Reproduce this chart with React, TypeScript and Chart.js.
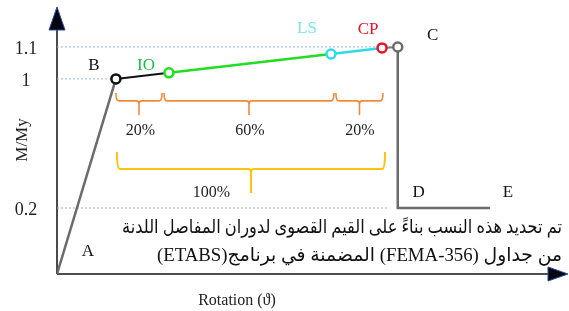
import React, { useEffect, useRef } from "react";
import { Chart, registerables, LinearScale } from "chart.js";

// ---- data ----
const POINT_NAMES = ["A", "B", "IO", "LS", "CP", "C", "D", "E"];
const ROTATION = [0, 1.2, 2.28, 5.58, 6.62, 6.94, 6.94, 8.82];
const MOMENT_RATIO = [0, 1, 1.019, 1.078, 1.097, 1.1, 0.2, 0.2];
const Y_TICKS = [0.2, 1, 1.1];
const Y_TICK_LABELS = ["0.2", "1", "1.1"];
const GUIDE_LEVELS = [1.1, 1, 0.2];
const GUIDE_ENDS = [6.94, 1.2, 6.74];
const BRACE_EDGES = [1.2, 2.16, 5.66, 6.64];
const BRACE_LABELS = ["20%", "60%", "20%"];
const TOTAL_LABEL = "100%";
const NOTE_LINES = [
  "تم تحديد هذه النسب بناءً على القيم القصوى لدوران المفاصل اللدنة",
  "من جداول (FEMA-356) المضمنة في برنامج(ETABS)",
];
const X_TITLE = "Rotation (ϑ)";
const Y_TITLE = "M/My";

// ---- styling ----
const SEG_COLORS = ["#6b6b6b", "#111111", "#22dd22", "#2ddbe6", "#7a7a7a", "#6b6b6b", "#6b6b6b"];
const SEG_WIDTHS = [2.5, 2, 2.5, 2.5, 2, 2.5, 2.5];
const POINT_COLORS = ["#000", "#111111", "#22dd22", "#2ddbe6", "#e8102a", "#6b6b6b", "#000", "#000"];
const POINT_RADII = [0, 4.5, 4.5, 4.5, 4.5, 4.5, 0, 0];
const LABEL_COLORS = ["#111", "#111", "#1fb84a", "#7de6ee", "#e8102a", "#111", "#111", "#111"];
const LABEL_OFFSETS = [[31, -22], [-22, -13], [-23, -7], [-24, -25], [-14, -18], [35, -11], [21, -15], [18, -15]];
const NOTE_WIDTHS = [440, 405];
const NOTE_Y = [228, 256];

// piecewise (schematic) vertical scale layout
const Y_BREAK_VALUES = [0, 0.2, 1, 1.1, 1.216];
const Y_BREAK_FRACTIONS = [0, 0.25, 0.739, 0.86, 1];

function interp(v: number, xs: number[], ys: number[]) {
  const n = xs.length;
  let i = 1;
  while (i < n - 1 && v > xs[i]) i++;
  const t = (v - xs[i - 1]) / (xs[i] - xs[i - 1]);
  return ys[i - 1] + t * (ys[i] - ys[i - 1]);
}

class BrokenScale extends LinearScale {
  static id = "broken";
  getPixelForValue(value: any) {
    if (value === null || value === undefined || isNaN(value)) return NaN;
    return this.getPixelForDecimal(interp(value, Y_BREAK_VALUES, Y_BREAK_FRACTIONS));
  }
  getValueForPixel(pixel: number) {
    return interp(this.getDecimalForPixel(pixel), Y_BREAK_FRACTIONS, Y_BREAK_VALUES);
  }
}

Chart.register(...registerables, BrokenScale as any);

const SERIF = '"Liberation Serif", "DejaVu Serif", serif';

function brace(ctx: CanvasRenderingContext2D, xa: number, xb: number, y: number, up: number, down: number) {
  const xm = (xa + xb) / 2;
  ctx.beginPath();
  ctx.moveTo(xa, y - up);
  ctx.quadraticCurveTo(xa, y, xa + 3, y);
  ctx.lineTo(xm - 3, y);
  ctx.quadraticCurveTo(xm, y, xm, y + 3);
  ctx.lineTo(xm, y + down);
  ctx.moveTo(xm, y + 3);
  ctx.quadraticCurveTo(xm, y, xm + 3, y);
  ctx.lineTo(xb - 3, y);
  ctx.quadraticCurveTo(xb, y, xb, y - up);
  ctx.stroke();
}

const decorPlugin = {
  id: "decor",
  beforeDatasetsDraw(chart: any) {
    const ctx = chart.ctx as CanvasRenderingContext2D;
    const xs = chart.scales.x;
    const ys = chart.scales.y;
    const x0 = xs.getPixelForValue(0);
    const y0 = ys.getPixelForValue(0);
    ctx.save();
    // y axis
    ctx.strokeStyle = "#4a4a4a";
    ctx.lineWidth = 2;
    ctx.beginPath();
    ctx.moveTo(x0, y0);
    ctx.lineTo(x0, 28);
    ctx.stroke();
    ctx.fillStyle = "#05060f";
    ctx.strokeStyle = "#2a4a9a";
    ctx.lineWidth = 1;
    ctx.beginPath();
    ctx.moveTo(x0, 7);
    ctx.lineTo(x0 + 8, 30);
    ctx.lineTo(x0 - 8, 30);
    ctx.closePath();
    ctx.fill();
    ctx.stroke();
    // x axis
    ctx.strokeStyle = "#111";
    ctx.lineWidth = 1.5;
    ctx.beginPath();
    ctx.moveTo(x0, y0);
    ctx.lineTo(550, y0);
    ctx.stroke();
    ctx.fillStyle = "#05060f";
    ctx.strokeStyle = "#2a4a9a";
    ctx.lineWidth = 1;
    ctx.beginPath();
    ctx.moveTo(568, y0);
    ctx.lineTo(548, y0 - 7);
    ctx.lineTo(548, y0 + 7);
    ctx.closePath();
    ctx.fill();
    ctx.stroke();
    ctx.restore();
  },
  afterDatasetsDraw(chart: any) {
    const ctx = chart.ctx as CanvasRenderingContext2D;
    const xs = chart.scales.x;
    const ys = chart.scales.y;
    ctx.save();
    ctx.textAlign = "center";
    ctx.textBaseline = "middle";
    // tick labels
    ctx.fillStyle = "#222";
    ctx.font = `18px ${SERIF}`;
    Y_TICKS.forEach((v, i) => {
      ctx.fillText(Y_TICK_LABELS[i], 26, ys.getPixelForValue(v) + 2);
    });
    // axis titles
    ctx.font = `16px ${SERIF}`;
    ctx.fillText(X_TITLE, 237, 301);
    ctx.save();
    ctx.translate(23, 140);
    ctx.rotate(-Math.PI / 2);
    ctx.font = `17px ${SERIF}`;
    ctx.fillText(Y_TITLE, 0, 0);
    ctx.restore();
    // point labels
    ctx.font = `17px ${SERIF}`;
    POINT_NAMES.forEach((name, i) => {
      const px = xs.getPixelForValue(ROTATION[i]);
      const py = ys.getPixelForValue(MOMENT_RATIO[i]);
      ctx.fillStyle = LABEL_COLORS[i];
      ctx.fillText(name, px + LABEL_OFFSETS[i][0], py + LABEL_OFFSETS[i][1]);
    });
    // orange braces
    const yOne = ys.getPixelForValue(1);
    ctx.strokeStyle = "#f28a3c";
    ctx.lineWidth = 1.6;
    for (let i = 0; i < BRACE_LABELS.length; i++) {
      const xa = xs.getPixelForValue(BRACE_EDGES[i]);
      const xb = xs.getPixelForValue(BRACE_EDGES[i + 1]);
      brace(ctx, xa + (i > 0 ? 1 : 0), xb - (i < BRACE_LABELS.length - 1 ? 1 : 0), yOne + 22, 8, 14);
      ctx.fillStyle = "#222";
      ctx.font = `16px ${SERIF}`;
      ctx.fillText(BRACE_LABELS[i], (xa + xb) / 2 + 1, yOne + 52);
    }
    // yellow brace
    const xa = xs.getPixelForValue(BRACE_EDGES[0]);
    const xb = xs.getPixelForValue(BRACE_EDGES[BRACE_EDGES.length - 1]);
    ctx.strokeStyle = "#ffc20e";
    ctx.lineWidth = 2;
    brace(ctx, xa + 1, xb + 2, yOne + 90, 17, 24);
    ctx.fillStyle = "#222";
    ctx.font = `16px ${SERIF}`;
    ctx.fillText(TOTAL_LABEL, (xa + xb) / 2 - 38, yOne + 114);
    // arabic note
    ctx.direction = "rtl";
    ctx.textAlign = "right";
    const fam = '"Liberation Serif", "DejaVu Sans", sans-serif';
    ctx.font = `19px ${fam}`;
    ctx.fillStyle = "#111";
    NOTE_LINES.forEach((line, i) => {
      const w = ctx.measureText(line).width;
      const sx = Math.max(0.6, Math.min(1.2, NOTE_WIDTHS[i] / w));
      ctx.save();
      ctx.translate(562, NOTE_Y[i]);
      ctx.scale(sx, 1);
      ctx.fillText(line, 0, 0);
      ctx.restore();
    });
    ctx.restore();
  },
};

export default function App() {
  const ref = useRef<HTMLCanvasElement | null>(null);
  useEffect(() => {
    document.body.style.margin = "0";
    if (!ref.current) return;
    const main = ROTATION.map((x, i) => ({ x, y: MOMENT_RATIO[i] }));
    const guides = GUIDE_LEVELS.map((lv, i) => ({
      data: [
        { x: 0, y: lv },
        { x: GUIDE_ENDS[i], y: lv },
      ],
      showLine: true,
      borderColor: "#9db2ea",
      borderWidth: 1,
      borderDash: [2, 2],
      pointRadius: 0,
    }));
    const chart = new Chart(ref.current, {
      type: "scatter",
      data: {
        datasets: [
          {
            data: main,
            showLine: true,
            borderWidth: 2.5,
            borderColor: "#6b6b6b",
            segment: {
              borderColor: (c: any) => SEG_COLORS[c.p0DataIndex],
              borderWidth: (c: any) => SEG_WIDTHS[c.p0DataIndex],
            },
            pointRadius: POINT_RADII,
            pointHoverRadius: POINT_RADII,
            pointBorderColor: POINT_COLORS,
            pointBackgroundColor: "#ffffff",
            pointBorderWidth: 2.5,
            tension: 0,
          } as any,
          ...(guides as any[]),
        ],
      },
      options: {
        responsive: false,
        animation: false,
        devicePixelRatio: 1,
        layout: { padding: { left: 57, right: 21, top: 10, bottom: 37 } },
        plugins: { legend: { display: false }, tooltip: { enabled: false } },
        events: [],
        scales: {
          x: { type: "linear", min: 0, max: 10, display: false },
          y: { type: "broken" as any, min: 0, max: 1.216, display: false },
        },
      },
      plugins: [decorPlugin],
    });
    return () => chart.destroy();
  }, []);
  return (
    <div style={{ position: "relative", width: 569, height: 311, background: "#fff" }}>
      <canvas ref={ref} width={569} height={311} style={{ display: "block" }} />
    </div>
  );
}
